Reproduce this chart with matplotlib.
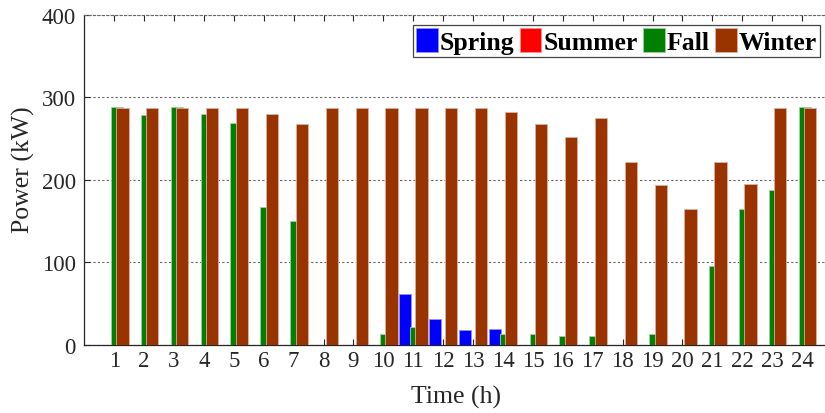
import numpy as np
import matplotlib
matplotlib.use("Agg")
import matplotlib.pyplot as plt

hours = list(range(1, 25))
spring = [0, 0, 0, 0, 0, 0, 0, 0, 0, 0, 62, 31, 18, 19, 0, 0, 0, 0, 0, 0, 0, 0, 0, 0]
summer = [0] * 24
fall = [288, 279, 288, 280, 269, 167, 150, 0, 0, 13.5, 22, 0, 0, 12.5,
        13.5, 11, 10, 0, 13.5, 0, 96, 165, 187, 288]
winter = [287, 287, 287, 287, 287, 280, 267, 287, 287, 287, 287, 287, 287, 282,
          267, 252, 275, 222, 194, 165, 221, 195, 287, 287]

series = [("Spring", spring, "#0000ff", "#9090ff"),
          ("Summer", summer, "#ff0000", "#ff9090"),
          ("Fall", fall, "#008000", "#a0d0a0"),
          ("Winter", winter, "#993300", "#e0b0a0")]

plt.rcParams['font.family'] = ['Liberation Serif', 'DejaVu Serif']

fig = plt.figure(figsize=(8.25, 4.14), dpi=100)
ax = fig.add_axes([84.3 / 825, 1 - 345.7 / 414, (832 - 84.3) / 825, (345.7 - 15.7) / 414])

x = np.array(hours)
offsets = [-0.273, -0.091, 0.091, 0.273]
for (name, vals, col, edge), off in zip(series, offsets):
    ax.bar(x + off, vals, width=0.41, color=col, edgecolor=edge, linewidth=0.6,
           label=name, zorder=3)

ax.set_xlim(0, 25)
ax.set_ylim(0, 400)
ax.set_xticks(hours)
ax.set_yticks([0, 100, 200, 300, 400])
ax.tick_params(axis='both', direction='in', labelsize=16.5, colors='#262626',
               length=4, width=0.8)
ax.tick_params(axis='x', top=True, pad=4)
ax.tick_params(axis='y', pad=6)
ax.yaxis.grid(True, linestyle=(0, (2, 2)), color='#666666', linewidth=0.8, zorder=0)
ax.set_axisbelow(True)

for s in ['left', 'bottom']:
    ax.spines[s].set_color('#262626')
    ax.spines[s].set_linewidth(0.9)
ax.spines['top'].set_linestyle((0, (2, 2)))
ax.spines['top'].set_color('#666666')
ax.spines['top'].set_linewidth(0.8)
ax.spines['right'].set_visible(False)

fig.text(23 / 825, 1 - 170 / 414, "Power (kW)", rotation=90, ha='center', va='center',
         fontsize=18.5, color='#262626')
fig.text(456 / 825, 1 - 397 / 414, "Time (h)", ha='center', va='center',
         fontsize=18.5, color='#262626')

leg = ax.legend(loc='upper right', bbox_to_anchor=(820 / 825, 1 - 26 / 414),
                bbox_transform=fig.transFigure, borderaxespad=0, ncol=4,
                prop={'weight': 'bold', 'size': 18.5}, handlelength=0.85,
                handleheight=1.05, handletextpad=0.08, columnspacing=0.2,
                borderpad=0.12, fancybox=False, framealpha=1)
leg.get_frame().set_edgecolor('#444444')
leg.get_frame().set_linewidth(0.9)

fig.savefig("out.png", dpi=100)
